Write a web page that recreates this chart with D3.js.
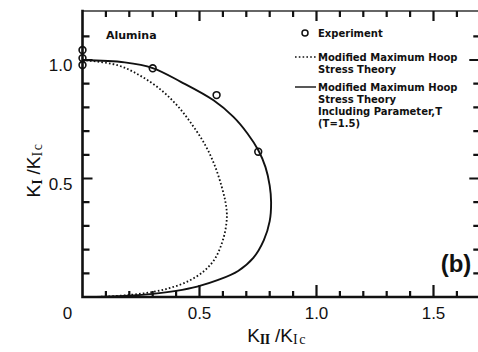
<!DOCTYPE html>
<html>
<head>
<meta charset="utf-8">
<script src="https://cdn.jsdelivr.net/npm/d3@7"></script>
<style>
  html, body { margin: 0; padding: 0; background: #fff; }
  svg { display: block; }
  .ticklabel { font-family: "Liberation Sans", Arial, sans-serif; font-size: 17px; fill: #111; }
  .legend text { font-family: "DejaVu Sans", sans-serif; font-weight: bold; font-size: 10px; fill: #111; }
  .note { font-family: "DejaVu Sans", sans-serif; font-weight: bold; font-size: 11px; fill: #111; }
</style>
</head>
<body>
<svg id="chart" width="478" height="352"></svg>
<script>
// Fracture envelope for alumina: K_I/K_Ic against K_II/K_Ic
const experimentKII = [0, 0, 0, 0.30, 0.573, 0.751];
const experimentKI  = [1.042, 1.008, 0.979, 0.965, 0.852, 0.613];

// Modified maximum hoop stress theory (dotted)
const mmhsKII = [0, 0.15, 0.25, 0.34, 0.41, 0.47, 0.525, 0.565, 0.595, 0.611, 0.617,
                 0.612, 0.595, 0.565, 0.52, 0.45, 0.37, 0.28, 0.18, 0.08, 0];
const mmhsKI  = [1.0, 0.978, 0.932, 0.870, 0.802, 0.725, 0.640, 0.555, 0.465, 0.400, 0.350,
                 0.290, 0.225, 0.160, 0.110, 0.066, 0.037, 0.018, 0.007, 0.001, 0];

// Same theory including the T parameter, T = 1.5 (solid)
const mmhsTKII = [0, 0.18, 0.30, 0.42, 0.56, 0.645, 0.705, 0.752, 0.782, 0.800, 0.806,
                  0.800, 0.775, 0.730, 0.665, 0.58, 0.49, 0.40, 0.30, 0.20, 0.10, 0];
const mmhsTKI  = [1.0, 0.99, 0.966, 0.908, 0.830, 0.760, 0.690, 0.618, 0.548, 0.470, 0.400,
                  0.320, 0.240, 0.165, 0.110, 0.072, 0.044, 0.026, 0.013, 0.005, 0.001, 0];

const xTickValues = [0, 0.5, 1.0, 1.5];
const yTickValues = [0.5, 1.0];
const xTickLabels = ["0", "0.5", "1.0", "1.5"];
const yTickLabels = ["0.5", "1.0"];
const xMinor = [0.1, 0.2, 0.3, 0.4, 0.6, 0.7, 0.8, 0.9, 1.1, 1.2, 1.3, 1.4, 1.6];
const yMinor = [0.1, 0.2, 0.3, 0.4, 0.6, 0.7, 0.8, 0.9, 1.1];

const svg = d3.select("#chart");
const ink = "#111";

const x = d3.scaleLinear().domain([0, 1.7]).range([82.5, 480.3]);
const y = d3.scaleLinear().domain([0, 1]).range([297, 60]);
const yTop = 11;
const xLeft = x(0), xRight = x(1.7), yBottom = y(0);

// Frame: thin top edge, heavy left and bottom axes, right edge
const frame = d3.path();
frame.moveTo(xLeft, yTop); frame.lineTo(xRight, yTop);
svg.append("path").attr("d", frame.toString()).attr("stroke", "#333").attr("stroke-width", 1.6).attr("fill", "none");
const axes = d3.path();
axes.moveTo(xLeft, yTop); axes.lineTo(xLeft, yBottom); axes.lineTo(xRight, yBottom); axes.lineTo(xRight, yTop);
svg.append("path").attr("d", axes.toString()).attr("stroke", ink).attr("stroke-width", 2.6)
  .attr("fill", "none").attr("stroke-linejoin", "miter").attr("stroke-linecap", "square");

// Tick marks, all pointing into the plot
const tickPath = d3.path();
const vTick = (v, yEdge, len) => { tickPath.moveTo(x(v), yEdge); tickPath.lineTo(x(v), yEdge + len); };
const hTick = (v, xEdge, len) => { tickPath.moveTo(xEdge, y(v)); tickPath.lineTo(xEdge + len, y(v)); };
xMinor.forEach(v => { vTick(v, yTop, 6); vTick(v, yBottom, -6); });
xTickValues.slice(1).forEach(v => { vTick(v, yTop, 10); vTick(v, yBottom, -12); });
yMinor.forEach(v => { hTick(v, xLeft, 7); hTick(v, xRight, -7); });
yTickValues.forEach(v => { hTick(v, xLeft, 10); hTick(v, xRight, -11); });

// Tick labels
svg.append("g").selectAll("text").data(xTickValues).join("text")
  .attr("class", "ticklabel")
  .attr("x", d => d === 0 ? x(d) - 15 : x(d)).attr("y", 319)
  .attr("text-anchor", "middle")
  .text((d, i) => xTickLabels[i]);
svg.append("g").selectAll("text").data(yTickValues).join("text")
  .attr("class", "ticklabel")
  .attr("x", xLeft - 10).attr("y", d => y(d) + 11)
  .attr("text-anchor", "end")
  .text((d, i) => yTickLabels[i]);

// Curves
const line = d3.line().x(d => x(d[0])).y(d => y(d[1])).curve(d3.curveCatmullRom.alpha(0.5));

svg.append("path")
  .datum(d3.zip(mmhsKII, mmhsKI))
  .attr("d", line)
  .attr("fill", "none").attr("stroke", ink).attr("stroke-width", 1.8)
  .attr("stroke-dasharray", "1.6,2.2");

svg.append("path")
  .datum(d3.zip(mmhsTKII, mmhsTKI))
  .attr("d", line)
  .attr("fill", "none").attr("stroke", ink).attr("stroke-width", 1.9);

// Experimental points
svg.append("g").selectAll("circle")
  .data(d3.zip(experimentKII, experimentKI))
  .join("circle")
  .attr("cx", d => x(d[0])).attr("cy", d => y(d[1])).attr("r", 3.4)
  .attr("fill", "none").attr("stroke", ink).attr("stroke-width", 1.6);

// Material note
svg.append("text").attr("class", "note").attr("x", 106).attr("y", 39).text("Alumina");

// Legend
const legend = svg.append("g").attr("class", "legend");
legend.append("circle").attr("cx", 305).attr("cy", 33).attr("r", 3)
  .attr("fill", "none").attr("stroke", ink).attr("stroke-width", 1.5);
legend.append("text").attr("x", 318).attr("y", 37).text("Experiment");

legend.append("line").attr("x1", 295).attr("x2", 316).attr("y1", 57).attr("y2", 57)
  .attr("stroke", ink).attr("stroke-width", 1.6).attr("stroke-dasharray", "1.6,2.2");
["Modified Maximum Hoop", "Stress Theory"].forEach((t, i) =>
  legend.append("text").attr("x", 318).attr("y", 61 + i * 12).text(t));

legend.append("line").attr("x1", 295).attr("x2", 316).attr("y1", 87).attr("y2", 87)
  .attr("stroke", ink).attr("stroke-width", 1.4);
["Modified Maximum Hoop", "Stress Theory", "Including Parameter,T", "(T=1.5)"].forEach((t, i) =>
  legend.append("text").attr("x", 318).attr("y", 91 + i * 12).text(t));

// Panel tag
svg.append("text").attr("x", 456).attr("y", 272).attr("text-anchor", "middle")
  .attr("font-family", "Liberation Sans, Arial, sans-serif").attr("font-weight", "bold")
  .attr("font-size", 24).attr("fill", ink).text("(b)");

// Axis titles
function ratioTitle(sel, sub) {
  sel.attr("font-family", "Liberation Sans, Arial, sans-serif").attr("font-size", 19).attr("fill", ink);
  sel.append("tspan").text("K");
  sel.append("tspan").attr("font-family", "Liberation Serif, serif").attr("font-size", 14)
    .attr("font-weight", "bold").attr("dy", 2).attr("letter-spacing", "-0.5px").text(sub);
  sel.append("tspan").attr("dy", -2).text(" /K");
  sel.append("tspan").attr("font-family", "Liberation Serif, serif").attr("font-size", 14)
    .attr("dy", 2).attr("letter-spacing", "1.5px").text("Ic");
}
ratioTitle(svg.append("text").attr("x", 277).attr("y", 342).attr("text-anchor", "middle"), "II");
ratioTitle(svg.append("text").attr("transform", "translate(40,170) rotate(-90)").attr("text-anchor", "middle"), "I");

// Tick marks drawn last so nothing covers them
svg.append("path").attr("d", tickPath.toString())
  .attr("stroke", ink).attr("stroke-width", 2.2).attr("fill", "none");
</script>
</body>
</html>
